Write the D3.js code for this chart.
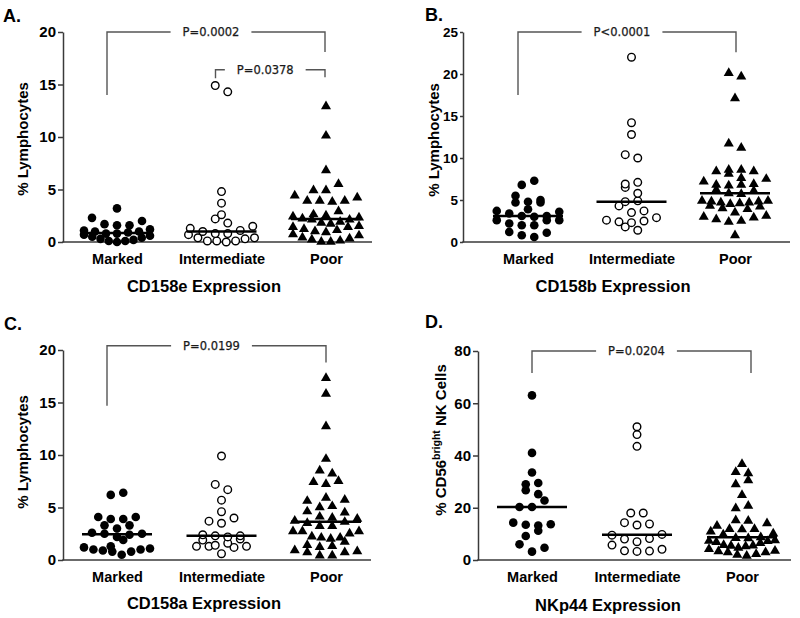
<!DOCTYPE html>
<html><head><meta charset="utf-8">
<script src="https://cdn.jsdelivr.net/npm/d3@7"></script>
<style>body{margin:0;background:#fff} svg{display:block}</style>
</head><body><svg id="c" width="800" height="618"></svg>
<script>
// ---------- data ----------
const categories = ["Marked", "Intermediate", "Poor"];

// A. CD158e (% lymphocytes)
const cd158eMarked = [3.2, 2.3, 2.0, 1.7, 1.6, 1.6, 1.2, 1.1, 1.0, 1.0, 0.9, 0.8, 0.8, 0.7, 0.6, 0.5, 0.4, 0.3, 0.2, 0.1, 0.1, 0.0];
const cd158eIntermediate = [14.9, 14.3, 4.8, 3.7, 2.6, 2.2, 1.8, 1.5, 1.3, 1.1, 1.0, 0.8, 0.8, 0.7, 0.4, 0.4, 0.3, 0.1, 0.1, 0.1, 0.0];
const cd158ePoor = [13.0, 10.2, 6.9, 5.6, 5.0, 5.0, 4.5, 4.3, 4.0, 4.0, 4.0, 3.9, 3.0, 2.7, 2.6, 2.5, 2.4, 2.3, 2.2, 2.2, 2.0, 1.9, 1.8, 1.6, 1.5, 1.5, 1.3, 1.2, 1.1, 1.0, 0.8, 0.7, 0.5, 0.4, 0.3, 0.2, 0.1, 0.1];

// B. CD158b (% lymphocytes)
const cd158bMarked = [7.3, 6.8, 5.5, 5.0, 4.8, 4.7, 4.7, 3.9, 3.7, 3.6, 3.4, 3.1, 3.1, 3.0, 2.6, 2.6, 2.6, 2.2, 2.0, 2.0, 1.2, 1.1, 0.8, 0.6];
const cd158bIntermediate = [22.0, 14.2, 12.8, 10.4, 10.0, 7.1, 6.9, 6.5, 5.8, 4.9, 4.8, 4.3, 3.7, 3.5, 2.9, 2.6, 2.5, 2.4, 2.3, 1.8, 1.4];
const cd158bPoor = [20.2, 19.8, 17.2, 11.8, 11.3, 8.7, 8.7, 8.5, 8.5, 8.2, 7.7, 7.6, 7.3, 7.0, 6.9, 6.9, 6.8, 6.3, 6.2, 5.9, 5.8, 5.0, 5.0, 4.9, 4.9, 4.8, 4.8, 4.7, 4.6, 4.4, 4.3, 4.1, 4.0, 3.6, 3.2, 3.1, 3.0, 2.8, 2.6, 2.5, 0.9];

// C. CD158a (% lymphocytes)
const cd158aMarked = [6.4, 6.2, 4.1, 4.1, 3.9, 3.9, 3.3, 3.3, 3.0, 2.6, 2.5, 2.5, 2.4, 2.2, 1.9, 1.3, 1.2, 1.1, 1.0, 1.0, 0.9, 0.8, 0.8, 0.5];
const cd158aIntermediate = [9.9, 7.2, 6.7, 5.7, 4.6, 4.0, 3.7, 3.5, 2.4, 2.3, 2.3, 2.2, 2.0, 1.9, 1.6, 1.4, 1.3, 1.3, 1.3, 1.2, 0.6];
const cd158aPoor = [17.4, 15.9, 12.8, 9.7, 8.6, 8.3, 7.6, 7.5, 7.3, 6.0, 5.8, 5.7, 5.2, 5.1, 4.7, 4.6, 4.2, 4.1, 4.0, 3.8, 3.7, 3.6, 3.3, 3.3, 2.8, 2.8, 2.8, 2.6, 2.3, 2.2, 2.2, 2.1, 1.8, 1.5, 1.4, 1.3, 1.0, 0.9, 0.8, 0.8, 0.5, 0.5];

// D. NKp44 (% CD56bright NK cells)
const nkp44Marked = [63, 41, 33.5, 29.5, 29, 26.7, 25.2, 22.8, 20.3, 20.3, 14.3, 13.7, 13.5, 13.2, 11.2, 9.2, 6.0, 4.7, 3.2];
const nkp44Intermediate = [51, 48, 43.5, 18, 18, 14.3, 13.8, 13.4, 9.8, 9.5, 8.2, 8.0, 7.0, 5.7, 4.1, 3.5, 3.4, 3.3];
const nkp44Poor = [37, 34, 33.5, 30.8, 29.3, 25.2, 21, 20.1, 15.5, 15.3, 14.3, 13.4, 12.1, 12.1, 12.0, 11.2, 10.4, 10.0, 9.0, 8.7, 8.6, 7.8, 7.6, 7.5, 7.2, 6.8, 6.0, 5.8, 5.7, 5.5, 5.0, 4.5, 3.8, 3.6, 3.2, 3.2, 2.6, 2.3, 1.9];

const ticks20 = [0, 5, 10, 15, 20];
const ticks25 = [0, 5, 10, 15, 20, 25];
const ticks80 = [0, 20, 40, 60, 80];

// significance brackets
const bracketsA = [
  {from: "Marked", to: "Poor", label: "P=0.0002", top: 20, endL: 14.0, endR: 18.1, dxL: -10, dxR: -1},
  {from: "Intermediate", to: "Poor", label: "P=0.0378", top: 16.4, endL: 15.6, endR: 15.7, dxL: -6, dxR: -1}
];
const bracketsB = [
  {from: "Marked", to: "Poor", label: "P<0.0001", top: 25, endL: 17.5, endR: 22.6, dxL: -10, dxR: 1}
];
const bracketsC = [
  {from: "Marked", to: "Poor", label: "P=0.0199", top: 20.4, endL: 14.7, endR: 18.8, dxL: -10, dxR: 0}
];
const bracketsD = [
  {from: "Marked", to: "Poor", label: "P=0.0204", top: 80, endL: 71.6, endR: 71.6, dxL: 0, dxR: 9}
];

// ---------- layout ----------
const panels = [
  {id: "A.", title: "CD158e Expression", yLabel: ["% Lymphocytes"], yMax: 20, ticks: ticks20,
   series: [cd158eMarked, cd158eIntermediate, cd158ePoor], brackets: bracketsA,
   g: {ax: 63, top: 32, bot: 242, xEnd: 372, c0: 117, c2: 326, lx: 3, ly: 22, tx: 204, ty: 292, ylx: 28, yly: 139, tf: 15, tk: 5}},
  {id: "B.", title: "CD158b Expression", yLabel: ["% Lymphocytes"], yMax: 25, ticks: ticks25,
   series: [cd158bMarked, cd158bIntermediate, cd158bPoor], brackets: bracketsB,
   g: {ax: 463, top: 32, bot: 242, xEnd: 790, c0: 528, c2: 735, lx: 425, ly: 21, tx: 613, ty: 292, ylx: 439, yly: 140, tf: 13.5, tk: 3}},
  {id: "C.", title: "CD158a Expression", yLabel: ["% Lymphocytes"], yMax: 20, ticks: ticks20,
   series: [cd158aMarked, cd158aIntermediate, cd158aPoor], brackets: bracketsC,
   g: {ax: 63, top: 350, bot: 560, xEnd: 371, c0: 117, c2: 326, lx: 4, ly: 330, tx: 204, ty: 609, ylx: 28, yly: 452, tf: 15, tk: 5}},
  {id: "D.", title: "NKp44 Expression", yLabel: ["% CD56", "bright", " NK Cells"], yMax: 80, ticks: ticks80,
   series: [nkp44Marked, nkp44Intermediate, nkp44Poor], brackets: bracketsD,
   g: {ax: 478, top: 351, bot: 560, xEnd: 791, c0: 532, c2: 742, lx: 425, ly: 328, tx: 608, ty: 611, ylx: 446, yly: 440, tf: 15, tk: 5}}
];

const FONT = "'Liberation Sans', Arial, sans-serif";
const PFONT = "'DejaVu Sans', sans-serif";
const AXIS = "#3a3a3a";
const svg = d3.select("#c");

// Prism-like scatter layout: points grouped into rows, spread evenly and capped in width
function swarm(values, y, cx, rowH, maxS, halfW) {
  const pts = values.map(v => ({v, y: y(v)})).sort((a, b) => b.y - a.y);
  const rows = [];
  let cur = null;
  for (const p of pts) {
    if (!cur || cur.y0 - p.y > rowH) { cur = {y0: p.y, pts: []}; rows.push(cur); }
    cur.pts.push(p);
  }
  rows.forEach((r, ri) => {
    const n = r.pts.length;
    const s = n > 1 ? Math.min(maxS, 2 * halfW / (n - 1)) : 0;
    const offs = d3.range(n).map(j => (j - (n - 1) / 2) * s);
    const sgn = ri % 2 ? 1 : -1;
    const order = d3.range(n).sort((a, b) => (Math.abs(offs[a]) - Math.abs(offs[b])) || sgn * (offs[a] - offs[b]));
    r.pts.forEach((p, k) => { p.x = cx + offs[order[k]]; });
  });
  return pts;
}

panels.forEach(P => {
  const g = P.g;
  const y = d3.scaleLinear().domain([0, P.yMax]).range([g.bot, g.top]);
  const x = d3.scalePoint().domain(categories).range([g.c0, g.c2]);
  const root = svg.append("g");

  root.append("text").attr("x", g.lx).attr("y", g.ly).text(P.id)
    .attr("font-family", FONT).attr("font-weight", "bold").attr("font-size", 18).attr("fill", "#000");

  const ya = root.append("g").attr("transform", `translate(${g.ax},0)`)
    .call(d3.axisLeft(y).tickValues(P.ticks).tickSize(g.tk).tickPadding(2).tickSizeOuter(0));
  ya.select(".domain").attr("stroke", AXIS).attr("stroke-width", 1.5);
  ya.selectAll(".tick line").attr("stroke", AXIS).attr("stroke-width", 1.5);
  ya.selectAll(".tick text").attr("font-family", FONT).attr("font-weight", "bold").attr("font-size", g.tf).attr("fill", "#000");

  root.append("line").attr("x1", g.ax - 0.75).attr("x2", g.xEnd).attr("y1", g.bot).attr("y2", g.bot)
    .attr("stroke", AXIS).attr("stroke-width", 1.5);
  const xa = root.append("g").attr("transform", `translate(0,${g.bot})`)
    .call(d3.axisBottom(x).tickSize(0).tickPadding(12));
  xa.select(".domain").remove();
  xa.selectAll(".tick text").attr("font-family", FONT).attr("font-weight", "bold").attr("font-size", 14.5).attr("fill", "#000");

  root.append("text").attr("x", g.tx).attr("y", g.ty).attr("text-anchor", "middle").text(P.title)
    .attr("font-family", FONT).attr("font-weight", "bold").attr("font-size", 16.5).attr("fill", "#000");

  const yl = root.append("text").attr("transform", `translate(${g.ylx},${g.yly}) rotate(-90)`)
    .attr("text-anchor", "middle").attr("font-family", FONT).attr("font-weight", "bold")
    .attr("font-size", 15).attr("fill", "#000");
  if (P.yLabel.length === 1) yl.text(P.yLabel[0]);
  else {
    yl.append("tspan").text(P.yLabel[0]);
    yl.append("tspan").text(P.yLabel[1]).attr("font-size", 10.5).attr("dy", -6);
    yl.append("tspan").text(P.yLabel[2]).attr("dy", 6);
  }

  P.series.forEach((vals, i) => {
    const cx = x(categories[i]);
    const pts = swarm(vals, y, cx, 7.5, 12.5, 33);
    const sg = root.append("g");
    if (i === 0) {
      sg.selectAll("circle").data(pts).join("circle").attr("cx", d => d.x).attr("cy", d => d.y)
        .attr("r", 4.3).attr("fill", "#000");
    } else if (i === 1) {
      sg.selectAll("circle").data(pts).join("circle").attr("cx", d => d.x).attr("cy", d => d.y)
        .attr("r", 3.8).attr("fill", "#fff").attr("stroke", "#000").attr("stroke-width", 1.4);
    } else {
      const tri = d3.symbol().type(d3.symbolTriangle).size(44);
      sg.selectAll("path").data(pts).join("path")
        .attr("transform", d => `translate(${d.x},${d.y + 0.8})`).attr("d", tri).attr("fill", "#000");
    }
    const med = d3.median(vals);
    root.append("line").attr("x1", cx - 35).attr("x2", cx + 35).attr("y1", y(med)).attr("y2", y(med))
      .attr("stroke", "#000").attr("stroke-width", 2.5);
  });

  P.brackets.forEach(b => {
    const xl = x(b.from) + b.dxL, xr = x(b.to) + b.dxR, yt = y(b.top);
    const bg = root.append("g");
    const t = bg.append("text").attr("x", (xl + xr) / 2 - 5).attr("y", yt).attr("dy", "0.35em")
      .attr("text-anchor", "middle").attr("font-family", PFONT).attr("font-size", 11.5)
      .attr("fill", "#1a1a1a").attr("stroke", "#1a1a1a").attr("stroke-width", 0.25).text(b.label);
    const bb = t.node().getBBox();
    const gapL = bb.x - 12, gapR = bb.x + bb.width + 12;
    bg.append("path").attr("fill", "none").attr("stroke", "#555").attr("stroke-width", 1.4)
      .attr("d", `M${xl},${y(b.endL)}V${yt}H${gapL}M${gapR},${yt}H${xr}V${y(b.endR)}`);
  });
});
</script></body></html>
